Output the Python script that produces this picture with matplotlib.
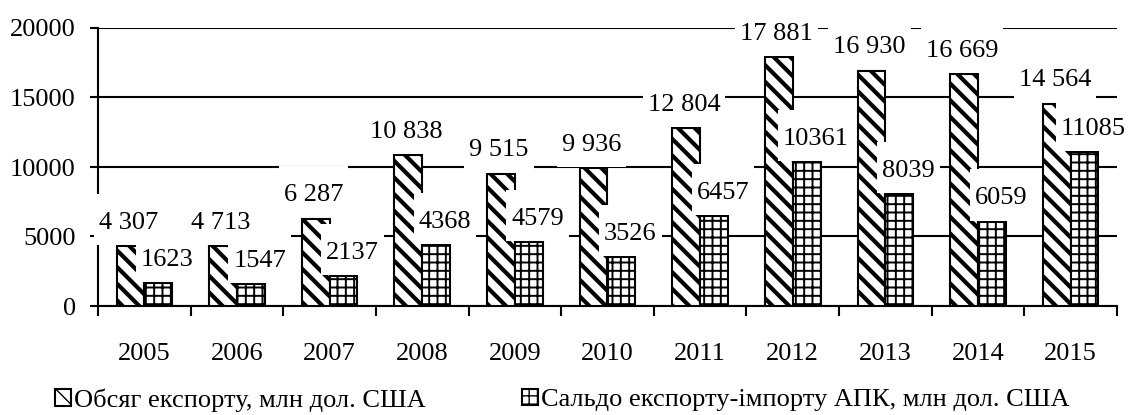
import numpy as np
import matplotlib
matplotlib.use("Agg")
import matplotlib.pyplot as plt
from matplotlib.path import Path

# ---- data ----
years = ["2005", "2006", "2007", "2008", "2009", "2010", "2011", "2012", "2013", "2014", "2015"]
export_values = [4307, 4307, 6287, 10838, 9515, 9936, 12804, 17881, 16930, 16669, 14564]
export_labels = ["4 307", "4 713", "6 287", "10 838", "9 515", "9 936", "12 804", "17 881", "16 930", "16 669", "14 564"]
balance_values = [1623, 1547, 2137, 4368, 4579, 3526, 6457, 10361, 8039, 6059, 11085]
balance_labels = ["1623", "1547", "2137", "4368", "4579", "3526", "6457", "10361", "8039", "6059", "11085"]
y_ticks = [0, 5000, 10000, 15000, 20000]
legend_labels = ["Обсяг експорту, млн дол. США", "Сальдо експорту-імпорту АПК, млн дол. США"]

plt.rcParams['font.family'] = ['Liberation Serif', 'DejaVu Serif']
FS = 19

W, H = 1130, 415
fig = plt.figure(figsize=(W / 100, H / 100), dpi=100)
ax = fig.add_axes([98 / W, 1 - 306 / H, (1117 - 98) / W, (306 - 28) / H])

x = np.arange(len(years))
bw = 0.3

def make_bars(vals, pos, hatch, hlw):
    with plt.rc_context({'hatch.linewidth': hlw, 'hatch.color': 'black'}):
        bars = ax.bar(pos, vals, width=bw, facecolor='white', edgecolor='black',
                      linewidth=1.5, hatch=hatch, zorder=3)
    for p in bars:
        try:
            p.set_hatch_linewidth(hlw)
        except AttributeError:
            pass
    return bars

b1 = make_bars(export_values, x - bw / 2, '\\\\', 3.0)
b2 = make_bars(balance_values, x + bw / 2, '++', 1.4)

ax.set_xlim(-0.5, len(years) - 0.5)
ax.set_ylim(0, 20000)
ax.set_yticks(y_ticks)
ax.set_yticklabels([str(v) for v in y_ticks], fontsize=FS)
ax.yaxis.grid(True, color='black', linewidth=1.5)
ax.set_axisbelow(True)
ax.tick_params(axis='y', direction='out', length=6, width=1.5, pad=10)

ax.set_xticks(np.arange(-0.5, len(years), 1.0))
ax.set_xticklabels([])
ax.set_xticks(x, minor=True)
ax.set_xticklabels(years, minor=True, fontsize=FS)
ax.tick_params(axis='x', which='major', direction='out', length=7.5, width=1.5)
ax.tick_params(axis='x', which='minor', length=0, pad=26.5)

for s in ['top', 'right']:
    ax.spines[s].set_visible(False)
for s in ['left', 'bottom']:
    ax.spines[s].set_linewidth(1.5)
    ax.spines[s].set_color('black')


def padbox(x0, y0, width, height, mutation_size):
    px = 0.19 * mutation_size
    pt = 0.68 * mutation_size
    pb = 0.42 * mutation_size
    verts = [(x0 - px, y0 - pb), (x0 + width + px, y0 - pb),
             (x0 + width + px, y0 + height + pt), (x0 - px, y0 + height + pt),
             (x0 - px, y0 - pb)]
    codes = [Path.MOVETO, Path.LINETO, Path.LINETO, Path.LINETO, Path.CLOSEPOLY]
    return Path(verts, codes)

box = dict(boxstyle=padbox, facecolor='white', edgecolor='none')

for i in range(len(years)):
    ax.annotate(export_labels[i], xy=(x[i] - bw / 2, export_values[i]),
                xytext=(-1.5, 12.5), textcoords='offset points',
                ha='center', va='baseline', fontsize=FS, bbox=box, zorder=5)
for i in range(len(years)):
    ax.annotate(balance_labels[i], xy=(x[i] + bw / 2, balance_values[i]),
                xytext=(6.5, 12.5), textcoords='offset points',
                ha='center', va='baseline', fontsize=FS, bbox=box, zorder=6)

common = dict(frameon=False, fontsize=FS, handlelength=0.6, handleheight=0.6,
              handletextpad=0.12, borderpad=0, borderaxespad=0, loc='center left')
fig.legend([b1[0]], [legend_labels[0]], bbox_to_anchor=(55 / W, 1 - 400 / H), **common)
fig.legend([b2[0]], [legend_labels[1]], bbox_to_anchor=(522 / W, 1 - 400 / H), **common)

fig.savefig("out.png", dpi=100)
